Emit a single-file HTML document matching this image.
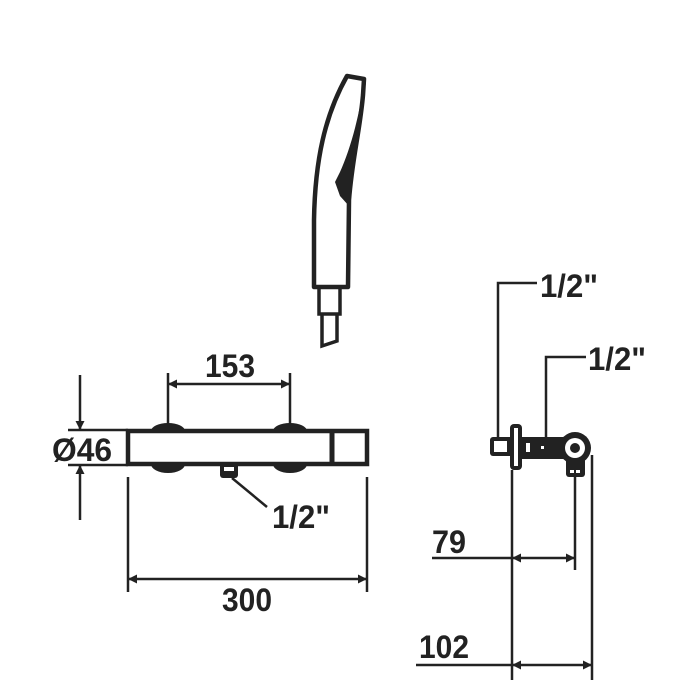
<!DOCTYPE html>
<html><head><style>body{margin:0;background:#fff}svg{display:block}</style></head>
<body>
<svg width="700" height="700" viewBox="0 0 700 700" xmlns="http://www.w3.org/2000/svg">
<defs>
<marker id="a" viewBox="0 0 10 10" refX="10" refY="5" markerWidth="17" markerHeight="9" markerUnits="userSpaceOnUse" orient="auto-start-reverse"><path d="M0,0L10,5L0,10z" fill="#222"/></marker>
</defs>
<g fill="none" stroke="#222" stroke-width="2.5">
<path d="M347,76 L364,79 L363,95 C360,130 352,160 349,200 L348,287 L314,287 L314,220 C315,160 325,115 347,76 Z" stroke-width="4.5" stroke-linejoin="round"/>
<path d="M319,288 L319,314 L340,314 L340,288" stroke-width="3.5"/>
<path d="M322,314 L322,346 L337,341 L337,314" stroke-width="3.5"/>
</g>
<path d="M364,80 C360,115 350,150 340,172 L335,182 L340,196 L349,206 C351,170 360,130 366,82 Z" fill="#222"/>
<g fill="none" stroke="#222" stroke-width="2.5">
<rect x="128" y="431" width="239" height="33" stroke-width="4.5"/>
<line x1="332" y1="431" x2="332" y2="464" stroke-width="5"/>
<line x1="168" y1="373" x2="168" y2="425"/><line x1="290" y1="373" x2="290" y2="425"/>
<line x1="168" y1="384" x2="290" y2="384" marker-start="url(#a)" marker-end="url(#a)"/>
<line x1="68" y1="430" x2="128" y2="430"/><line x1="68" y1="465" x2="128" y2="465"/>
<line x1="80" y1="375" x2="80" y2="430" marker-end="url(#a)"/>
<line x1="80" y1="520" x2="80" y2="465" marker-end="url(#a)"/>
<line x1="128" y1="477" x2="128" y2="592"/><line x1="367" y1="477" x2="367" y2="592"/>
<line x1="128" y1="579" x2="367" y2="579" marker-start="url(#a)" marker-end="url(#a)"/>
<line x1="232" y1="478" x2="267" y2="507"/>
<polyline points="537,283 498,283 498,437"/>
<polyline points="586,357 546,357 546,437"/>
<line x1="512" y1="470" x2="512" y2="680"/>
<line x1="575" y1="477" x2="575" y2="570"/>
<line x1="592" y1="455" x2="592" y2="680"/>
<line x1="432" y1="558" x2="512" y2="558"/>
<line x1="512" y1="558" x2="575" y2="558" marker-start="url(#a)" marker-end="url(#a)"/>
<line x1="416" y1="665" x2="512" y2="665"/>
<line x1="512" y1="665" x2="592" y2="665" marker-start="url(#a)" marker-end="url(#a)"/>
</g>
<g fill="#222">
<path d="M151,431 a17,8 0 0 1 34,0z M273,431 a17,8 0 0 1 34,0z M151,464 a17,9 0 0 0 34,0z M273,464 a17,9 0 0 0 34,0z"/>
<rect x="220" y="462" width="18" height="16" rx="3"/>
<rect x="224" y="467" width="10" height="4" fill="#fff"/>
<rect x="490" y="437" width="23" height="19" rx="3"/>
<rect x="494" y="441" width="13" height="11" fill="#fff"/>
<rect x="510" y="424" width="12" height="46" rx="4"/>
<rect x="514" y="428" width="4" height="38" fill="#fff"/>
<rect x="520" y="437" width="45" height="22"/>
<rect x="526" y="443" width="4" height="9" fill="#fff"/>
<rect x="541" y="446" width="3" height="3" fill="#fff"/>
<rect x="566" y="456" width="19" height="21" rx="3"/>
<rect x="570" y="470" width="4" height="3" fill="#fff"/><rect x="576" y="470" width="4" height="3" fill="#fff"/>
<circle cx="575" cy="448" r="16"/>
<circle cx="575" cy="448" r="10" fill="#fff"/>
<circle cx="575" cy="448" r="5"/>
</g>
<g font-family="Liberation Sans, sans-serif" font-weight="bold" font-size="32" fill="#222" lengthAdjust="spacingAndGlyphs">
<text x="205" y="377" textLength="50" lengthAdjust="spacingAndGlyphs">153</text>
<text x="52" y="461" textLength="60" lengthAdjust="spacingAndGlyphs">Ø46</text>
<text x="272" y="528" textLength="58" lengthAdjust="spacingAndGlyphs">1/2"</text>
<text x="222" y="611" textLength="50" lengthAdjust="spacingAndGlyphs">300</text>
<text x="540" y="297" textLength="58" lengthAdjust="spacingAndGlyphs">1/2"</text>
<text x="588" y="370" textLength="58" lengthAdjust="spacingAndGlyphs">1/2"</text>
<text x="432" y="553" textLength="34" lengthAdjust="spacingAndGlyphs">79</text>
<text x="419" y="658" textLength="50" lengthAdjust="spacingAndGlyphs">102</text>
</g>
</svg>
</body></html>
